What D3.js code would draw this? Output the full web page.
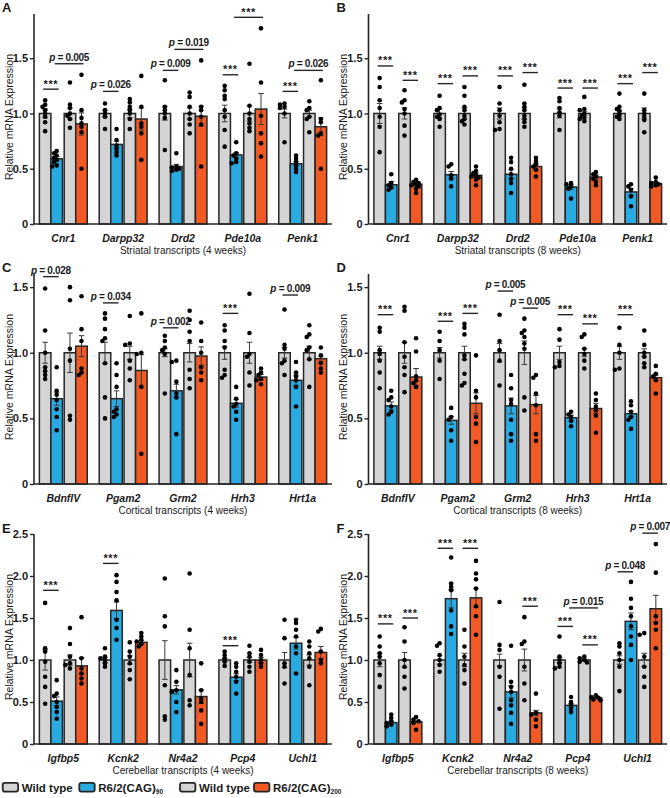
<!DOCTYPE html>
<html><head><meta charset="utf-8">
<script src="https://cdn.jsdelivr.net/npm/d3@7"></script>
<style>
body{margin:0;background:#fff}
svg{display:block}
text{font-family:"Liberation Sans",Arial,Helvetica,sans-serif;fill:#1a1a1a}
</style>
</head><body>
<svg id="chart" width="670" height="798"></svg>
<script>
// ---------------- DATA ----------------
const panelLetters = ["A","B","C","D","E","F"];
const panelTitles = ["Striatal transcripts (4 weeks)","Striatal transcripts (8 weeks)",
  "Cortical transcripts (4 weeks)","Cortical transcripts (8 weeks)",
  "Cerebellar transcripts (4 weeks)","Cerebellar transcripts (8 weeks)"];
const genesStriatal = ["Cnr1","Darpp32","Drd2","Pde10a","Penk1"];
const genesCortical = ["BdnfIV","Pgam2","Grm2","Hrh3","Hrt1a"];
const genesCerebellar = ["Igfbp5","Kcnk2","Nr4a2","Pcp4","Uchl1"];
const seriesNames = ["Wild type","R6/2(CAG)90","Wild type","R6/2(CAG)200"];
const yMax = [1.9,1.9,1.6,1.6,2.5,2.5];
const ticksLow = [0,0.5,1.0,1.5];
const ticksHigh = [0,0.5,1.0,1.5,2.0,2.5];

// means per gene: [WT, CAG90, WT, CAG200]
const meansA = [[1,0.59,1,0.905],[1,0.72,1,0.95],[1,0.52,1,0.975],[1,0.625,1,1.04],[1,0.545,1,0.88]];
const semA   = [[0.04,0.02,0.05,0.1],[0.03,0.03,0.04,0.1],[0.06,0.02,0.05,0.09],[0.075,0.02,0.07,0.14],[0.04,0.02,0.03,0.08]];
const meansB = [[1,0.355,1,0.36],[1,0.445,1,0.44],[1,0.45,1,0.52],[1,0.335,1,0.425],[1,0.29,1,0.365]];
const semB   = [[0.09,0.03,0.05,0.015],[0.04,0.03,0.05,0.02],[0.05,0.04,0.05,0.03],[0.04,0.02,0.02,0.02],[0.03,0.03,0.05,0.015]];
const meansC = [[1,0.65,1,1.05],[1,0.65,1,0.865],[1,0.71,1,0.975],[1,0.615,1,0.815],[1,0.79,1,0.955]];
const semC   = [[0.08,0.05,0.15,0.08],[0.08,0.06,0.05,0.12],[0.03,0.05,0.07,0.07],[0.05,0.03,0.08,0.02],[0.04,0.04,0.05,0.02]];
const meansD = [[1,0.595,1,0.815],[1,0.485,1,0.615],[1,0.595,1,0.605],[1,0.505,1,0.575],[1,0.535,1,0.81]];
const semD   = [[0.05,0.03,0.08,0.065],[0.04,0.03,0.05,0.08],[0.07,0.06,0.09,0.07],[0.05,0.02,0.03,0.04],[0.05,0.02,0.03,0.02]];
const meansE = [[1,0.51,1,0.93],[1,1.59,1,1.21],[1,0.645,1,0.565],[1,0.795,1,1.0],[1,1.2,1,1.09]];
const semE   = [[0.12,0.05,0.06,0.1],[0.03,0.1,0.05,0.02],[0.23,0.05,0.2,0.08],[0.02,0.04,0.03,0.03],[0.09,0.07,0.06,0.07]];
const meansF = [[1,0.255,1,0.265],[1,1.73,1,1.74],[1,0.62,1,0.37],[1,0.46,1,0.55],[1,1.46,1,1.61]];
const semF   = [[0.08,0.02,0.09,0.01],[0.05,0.11,0.08,0.11],[0.07,0.07,0.13,0.03],[0.03,0.02,0.01,0.01],[0.05,0.1,0.08,0.16]];

// individual animals per gene: [WT, CAG90, WT, CAG200]
const dotsA = [
 [[1.12,1.08,1.06,1.03,1.0,0.97,0.92,0.84],[0.66,0.64,0.62,0.60,0.58,0.56,0.53,0.52],[1.28,1.08,1.05,1.0,0.98,0.95,0.87],[1.35,1.03,0.96,0.91,0.88,0.83,0.50]],
 [[1.09,1.03,1.0,0.97,0.86],[0.86,0.76,0.71,0.68,0.65,0.62],[1.13,1.10,1.06,1.03,1.0,0.95,0.86],[1.34,1.06,0.91,0.88,0.82,0.58]],
 [[1.30,1.06,1.03,1.0,0.96,0.67],[0.64,0.52,0.51,0.50,0.49,0.48],[1.19,1.15,1.06,1.0,0.95,0.90,0.82],[1.48,1.06,1.03,0.97,0.90,0.52]],
 [[1.25,1.21,1.16,1.13,1.03,0.97,0.85,0.70],[0.74,0.64,0.62,0.59,0.56,0.55],[1.45,1.07,1.0,0.95,0.91,0.87,0.84],[1.77,1.28,0.98,0.82,0.73,0.61]],
 [[1.09,1.08,1.06,1.05,1.0,0.74],[0.62,0.59,0.56,0.53,0.50,0.47],[1.11,1.05,1.03,0.97,0.95,0.83],[1.30,0.95,0.92,0.82,0.80,0.50]]];
const dotsB = [
 [[1.32,1.24,1.12,1.05,0.97,0.88,0.65],[0.45,0.37,0.35,0.33,0.31],[1.21,1.12,1.1,1.04,1.0,0.89,0.80],[0.40,0.38,0.37,0.36,0.35,0.34,0.32,0.28]],
 [[1.16,1.05,1.03,0.99,0.97,0.95,0.88],[0.54,0.52,0.44,0.41,0.34],[1.24,1.16,1.06,1.03,0.98,0.95,0.93,0.90],[0.52,0.48,0.46,0.44,0.43,0.42,0.40,0.35]],
 [[1.24,1.09,1.03,0.98,0.92,0.86,0.85],[0.60,0.56,0.50,0.45,0.41,0.37,0.28],[1.26,1.09,1.06,1.03,0.98,0.95,0.92,0.88],[0.60,0.57,0.54,0.52,0.49,0.43]],
 [[1.14,1.11,1.05,1.01,0.98,0.85],[0.37,0.36,0.34,0.32,0.23],[1.15,1.04,1.03,1.0,0.98,0.96,0.95,0.93],[0.47,0.45,0.43,0.41,0.38,0.35]],
 [[1.18,1.06,1.04,1.02,0.99,0.97,0.95],[0.36,0.34,0.31,0.25,0.16],[1.18,1.03,1.0,0.97,0.94,0.83],[0.42,0.38,0.37,0.36,0.35,0.34]]];
const dotsC = [
 [[1.49,1.17,1.0,0.89,0.86,0.83,0.80],[0.89,0.71,0.68,0.64,0.57,0.51,0.41],[1.50,1.40,1.03,0.94,0.52,0.49],[1.43,1.18,1.09,0.88,0.85,0.83]],
 [[1.30,1.26,1.18,1.11,1.09,0.92,0.66,0.50],[0.92,0.83,0.74,0.57,0.55,0.53,0.51],[1.28,1.07,1.06,0.94,0.88,0.79],[1.30,1.00,0.99,0.74,0.23]],
 [[1.13,1.09,1.04,1.02,0.99,0.69],[0.94,0.93,0.78,0.69,0.66,0.38],[1.32,1.25,1.16,1.09,0.87,0.80,0.73],[1.23,1.09,1.0,0.89,0.85,0.79]],
 [[1.21,1.17,1.09,1.04,0.87,0.83,0.81],[0.74,0.65,0.61,0.59,0.55,0.49],[1.45,1.15,0.99,0.97,0.85,0.75],[0.88,0.85,0.83,0.80,0.79,0.76]],
 [[1.33,1.06,1.03,0.94,0.92,0.83],[0.93,0.85,0.82,0.79,0.74,0.59],[1.21,1.14,1.12,1.04,1.02,0.95,0.74],[1.04,0.98,0.92,0.88,0.85]]];
const dotsD = [
 [[1.19,1.16,1.02,0.99,0.94,0.85,0.73],[0.71,0.66,0.64,0.59,0.55,0.53],[1.35,1.32,1.08,0.97,0.89,0.83,0.70],[1.11,1.01,0.82,0.79,0.77,0.74]],
 [[1.16,1.09,1.02,0.94,0.80],[0.58,0.51,0.49,0.41,0.33],[1.22,1.19,1.14,0.98,0.95,0.84,0.77,0.75],[0.98,0.71,0.66,0.51,0.46,0.32]],
 [[1.29,1.09,1.02,0.94,0.75],[0.83,0.73,0.64,0.61,0.49,0.38,0.33],[1.26,1.17,1.15,1.12,1.07,1.03,0.66,0.56],[0.83,0.81,0.69,0.60,0.38,0.33]],
 [[1.18,1.10,0.93,0.90,0.89],[0.55,0.53,0.51,0.48,0.44],[1.14,1.12,1.03,0.99,0.94,0.88],[0.69,0.64,0.59,0.56,0.52,0.39]],
 [[1.19,1.06,1.0,0.88,0.87],[0.63,0.60,0.55,0.51,0.49,0.42],[1.17,1.06,1.0,0.97,0.92,0.89],[0.90,0.84,0.82,0.79,0.69]]];
const dotsE = [
 [[1.68,1.14,1.10,0.98,0.80,0.68,0.48],[0.76,0.60,0.57,0.50,0.44,0.38,0.30],[1.38,1.19,1.04,0.96,0.94,0.90],[1.51,1.02,0.90,0.84,0.78,0.72]],
 [[1.14,1.04,1.02,1.0,0.96,0.92],[2.01,1.93,1.81,1.71,1.48,1.38,1.24],[1.21,1.10,1.04,0.96,0.88,0.77],[1.32,1.28,1.24,1.22,1.19,1.16]],
 [[1.97,1.52,1.40,0.70,0.33,0.29],[0.88,0.74,0.64,0.62,0.50,0.38],[2.03,1.36,1.14,0.82,0.52,0.46],[0.96,0.64,0.54,0.50,0.40,0.24]],
 [[1.10,1.06,1.02,0.98,0.93],[0.96,0.92,0.86,0.80,0.74,0.60],[1.17,1.08,1.04,0.98,0.92,0.86],[1.12,1.06,1.0,0.96,0.92]],
 [[1.48,1.26,0.96,0.92,0.72],[1.48,1.44,1.36,1.28,1.16,1.08,0.84],[1.22,1.16,1.08,1.02,0.92,0.70],[1.37,1.34,1.10,1.0,0.96]]];
const dotsF = [
 [[1.28,1.16,1.08,1.04,0.96,0.82,0.68],[0.35,0.31,0.27,0.25,0.23,0.21],[1.39,1.22,1.0,0.92,0.80,0.66],[0.32,0.29,0.27,0.25,0.17]],
 [[1.20,1.17,1.06,1.0,0.94,0.86],[2.22,1.91,1.87,1.83,1.59,1.40,1.31],[1.36,1.16,1.04,0.94,0.88,0.72],[2.18,2.03,1.96,1.85,1.64,1.52,1.30]],
 [[1.69,1.18,1.12,0.92,0.80,0.42],[1.17,0.74,0.68,0.62,0.52,0.46,0.37,0.24],[1.51,1.22,1.19,0.92,0.72,0.52],[0.60,0.37,0.35,0.29,0.21]],
 [[1.28,1.04,1.0,0.96,0.92,0.90],[0.56,0.50,0.46,0.42,0.38],[1.04,1.02,1.0,0.98,0.97],[0.58,0.56,0.55,0.53,0.52]],
 [[1.20,1.16,1.08,1.0,0.92,0.63],[1.93,1.73,1.62,1.52,1.40,1.28,1.18,1.0],[1.32,1.30,1.04,0.92,0.80,0.68],[2.38,2.04,1.52,1.44,1.36,1.14]]];

// significance brackets: gene, compared series a/b, label, bracket level (expression units)
const sigA = [
 {g:"Cnr1",a:0,b:1,t:"***",v:1.22},{g:"Cnr1",a:1,b:3,t:"p = 0.005",v:1.45},
 {g:"Darpp32",a:0,b:1,t:"p = 0.026",v:1.20},
 {g:"Drd2",a:0,b:1,t:"p = 0.009",v:1.39},{g:"Drd2",a:1,b:3,t:"p = 0.019",v:1.58},
 {g:"Pde10a",a:0,b:1,t:"***",v:1.35},{g:"Pde10a",a:1,b:3,t:"***",v:1.87},
 {g:"Penk1",a:0,b:1,t:"***",v:1.20},{g:"Penk1",a:1,b:3,t:"p = 0.026",v:1.39}];
const sigB = [
 {g:"Cnr1",a:0,b:1,t:"***",v:1.43},{g:"Cnr1",a:2,b:3,t:"***",v:1.30},
 {g:"Darpp32",a:0,b:1,t:"***",v:1.27},{g:"Darpp32",a:2,b:3,t:"***",v:1.34},
 {g:"Drd2",a:0,b:1,t:"***",v:1.34},{g:"Drd2",a:2,b:3,t:"***",v:1.37},
 {g:"Pde10a",a:0,b:1,t:"***",v:1.23},{g:"Pde10a",a:2,b:3,t:"***",v:1.23},
 {g:"Penk1",a:0,b:1,t:"***",v:1.27},{g:"Penk1",a:2,b:3,t:"***",v:1.37}];
const sigC = [
 {g:"BdnfIV",a:0,b:1,t:"p = 0.028",v:1.58},{g:"Pgam2",a:0,b:1,t:"p = 0.034",v:1.38},
 {g:"Grm2",a:0,b:1,t:"p = 0.002",v:1.19},{g:"Hrh3",a:0,b:1,t:"***",v:1.30},
 {g:"Hrt1a",a:0,b:1,t:"p = 0.009",v:1.44}];
const sigD = [
 {g:"BdnfIV",a:0,b:1,t:"***",v:1.29},
 {g:"Pgam2",a:0,b:1,t:"***",v:1.24},{g:"Pgam2",a:2,b:3,t:"***",v:1.30},
 {g:"Grm2",a:0,b:1,t:"p = 0.005",v:1.47},{g:"Grm2",a:2,b:3,t:"p = 0.005",v:1.34},
 {g:"Hrh3",a:0,b:1,t:"***",v:1.29},{g:"Hrh3",a:2,b:3,t:"***",v:1.22},
 {g:"Hrt1a",a:0,b:1,t:"***",v:1.29}];
const sigE = [
 {g:"Igfbp5",a:0,b:1,t:"***",v:1.83},{g:"Kcnk2",a:0,b:1,t:"***",v:2.15},
 {g:"Pcp4",a:0,b:1,t:"***",v:1.17}];
const sigF = [
 {g:"Igfbp5",a:0,b:1,t:"***",v:1.43},{g:"Igfbp5",a:2,b:3,t:"***",v:1.50},
 {g:"Kcnk2",a:0,b:1,t:"***",v:2.33},{g:"Kcnk2",a:2,b:3,t:"***",v:2.33},
 {g:"Nr4a2",a:2,b:3,t:"***",v:1.64},
 {g:"Pcp4",a:0,b:1,t:"***",v:1.40},{g:"Pcp4",a:1,b:3,t:"p = 0.015",v:1.62},{g:"Pcp4",a:2,b:3,t:"***",v:1.18},
 {g:"Uchl1",a:0,b:1,t:"p = 0.048",v:2.05},{g:"Uchl1",a:2,b:3,t:"p = 0.007",v:2.51}];

// ---------------- STYLE / LAYOUT ----------------
const colors = ["#d4d4d4","#29abe2","#d4d4d4","#f15a24"];
const ink = "#262626";
const colX = [[34,332],[368.5,667]];
const rowOff = [0,260,520];
const plotTop = 14, plotBottom = 224;

const panels = [
 {genes:genesStriatal, means:meansA, sem:semA, dots:dotsA, sig:sigA, ticks:ticksLow},
 {genes:genesStriatal, means:meansB, sem:semB, dots:dotsB, sig:sigB, ticks:ticksLow},
 {genes:genesCortical, means:meansC, sem:semC, dots:dotsC, sig:sigC, ticks:ticksLow},
 {genes:genesCortical, means:meansD, sem:semD, dots:dotsD, sig:sigD, ticks:ticksLow},
 {genes:genesCerebellar, means:meansE, sem:semE, dots:dotsE, sig:sigE, ticks:ticksHigh},
 {genes:genesCerebellar, means:meansF, sem:semF, dots:dotsF, sig:sigF, ticks:ticksHigh}];

const svg = d3.select("#chart");

panels.forEach((p, i) => {
  const col = i % 2, row = Math.floor(i / 2);
  const oy = rowOff[row];
  const [x0, x1] = colX[col];
  const g = svg.append("g");

  const y = d3.scaleLinear().domain([0, yMax[i]]).range([oy + plotBottom, oy + plotTop]);
  const xg = d3.scaleBand().domain(p.genes).range([x0, x1]).paddingInner(0.2).paddingOuter(0.09);
  const xpair = d3.scaleBand().domain([0, 1]).range([0, xg.bandwidth()]).paddingInner(0.07);
  const xin = d3.scaleBand().domain([0, 1]).range([0, xpair.bandwidth()]);
  const barX = (gene, s) => xg(gene) + xpair(Math.floor(s / 2)) + xin(s % 2);
  const bw = xin.bandwidth();
  const cx = (gene, s) => barX(gene, s) + bw / 2;

  // bars
  p.genes.forEach((gene, gi) => {
    p.means[gi].forEach((m, s) => {
      g.append("rect").attr("x", barX(gene, s)).attr("y", y(m))
        .attr("width", bw).attr("height", y(0) - y(m))
        .attr("fill", colors[s]).attr("stroke", ink).attr("stroke-width", 1.5);
    });
  });
  // error bars
  p.genes.forEach((gene, gi) => {
    p.means[gi].forEach((m, s) => {
      const e = p.sem[gi][s], c = cx(gene, s);
      const eg = g.append("g").attr("stroke", "#3a3a3a").attr("stroke-width", 1);
      eg.append("line").attr("x1", c).attr("x2", c).attr("y1", y(m - e)).attr("y2", y(m + e));
      [m - e, m + e].forEach(v => eg.append("line").attr("x1", c - 2.8).attr("x2", c + 2.8).attr("y1", y(v)).attr("y2", y(v)));
    });
  });
  // dots (simple swarm layout)
  const r = 2.3;
  p.genes.forEach((gene, gi) => {
    p.dots[gi].forEach((vals, s) => {
      const c = cx(gene, s);
      const placed = [];
      vals.slice().sort((a, b) => b - a).forEach(v => {
        const py = y(v);
        const offs = [0, -2.6, 2.6, -4.6, 4.6];
        let px = c;
        for (const o of offs) {
          const ok = placed.every(q => Math.hypot(q[0] - (c + o), q[1] - py) >= 3.2);
          if (ok) { px = c + o; break; }
        }
        placed.push([px, py]);
        g.append("circle").attr("cx", px).attr("cy", py).attr("r", r).attr("fill", "#000");
      });
    });
  });

  // axes
  const ya = d3.axisLeft(y).tickValues(p.ticks).tickSize(4).tickPadding(2)
    .tickFormat(d => d === 0 ? "0" : d3.format(".1f")(d));
  const yAxisG = g.append("g").attr("transform", `translate(${x0},0)`).call(ya);
  yAxisG.select(".domain").attr("stroke", ink).attr("stroke-width", 1.6);
  yAxisG.selectAll(".tick line").attr("stroke", ink).attr("stroke-width", 1.4);
  yAxisG.selectAll(".tick text").attr("font-size", 11).attr("font-weight", "bold")
    .attr("font-family", '"Liberation Sans",Arial,sans-serif').attr("fill", "#1a1a1a");
  yAxisG.select(".domain").attr("d", `M0,${oy + plotTop}V${oy + plotBottom}`);

  g.append("line").attr("x1", x0).attr("x2", x1).attr("y1", y(0)).attr("y2", y(0))
    .attr("stroke", ink).attr("stroke-width", 1.6);

  // gene labels
  p.genes.forEach(gene => {
    g.append("text").attr("x", xg(gene) + xg.bandwidth() / 2).attr("y", oy + 242)
      .attr("text-anchor", "middle").attr("font-size", 10.5).attr("font-weight", "bold")
      .attr("font-style", "italic").text(gene);
  });
  // x title
  g.append("text").attr("x", (x0 + x1) / 2).attr("y", oy + 254)
    .attr("text-anchor", "middle").attr("font-size", 10).text(panelTitles[i]);
  // y title
  g.append("text").attr("transform", `translate(${x0 - 21.5},${oy + (plotTop + plotBottom) / 2 - 2}) rotate(-90)`)
    .attr("text-anchor", "middle").attr("font-size", 10.5).text("Relative mRNA Expression");
  // panel letter
  g.append("text").attr("x", x0 - 32).attr("y", oy + 11.8 + (row === 2 ? 1.5 : 0))
    .attr("font-size", 13).attr("font-weight", "bold").text(panelLetters[i]);

  // significance
  p.sig.forEach(s => {
    const xa = cx(s.g, s.a) - 2, xb = cx(s.g, s.b) + 2, ly = y(s.v);
    g.append("line").attr("x1", xa).attr("x2", xb).attr("y1", ly).attr("y2", ly)
      .attr("stroke", ink).attr("stroke-width", 1.4);
    const t = g.append("text").attr("x", (xa + xb) / 2).attr("text-anchor", "middle")
      .attr("font-weight", "bold");
    if (s.t === "***") {
      t.attr("y", ly - 1.5).attr("font-size", 11).attr("letter-spacing", 0.6).text("***");
    } else {
      t.attr("y", ly - 3).attr("font-size", 10).attr("letter-spacing", -0.3);
      t.append("tspan").attr("font-style", "italic").text(s.t.slice(0, 1));
      t.append("tspan").text(s.t.slice(1));
    }
  });
});

// legend
const legendX = [2.7, 79.3, 180, 254];
const legendItems = [
  {label:"Wild type", sub:""}, {label:"R6/2(CAG)", sub:"90"},
  {label:"Wild type", sub:""}, {label:"R6/2(CAG)", sub:"200"}];
legendItems.forEach((it, k) => {
  const lx = legendX[k];
  svg.append("rect").attr("x", lx).attr("y", 782.8).attr("width", 15.4).attr("height", 8.8)
    .attr("rx", 2).attr("fill", colors[k]).attr("stroke", ink).attr("stroke-width", 1.8);
  const t = svg.append("text").attr("x", lx + 19).attr("y", 791.8)
    .attr("font-size", 11.5).attr("font-weight", "bold");
  t.append("tspan").text(it.label);
  if (it.sub) t.append("tspan").attr("font-size", 6.5).attr("dy", 2.5).text(it.sub);
});
</script>
</body></html>
